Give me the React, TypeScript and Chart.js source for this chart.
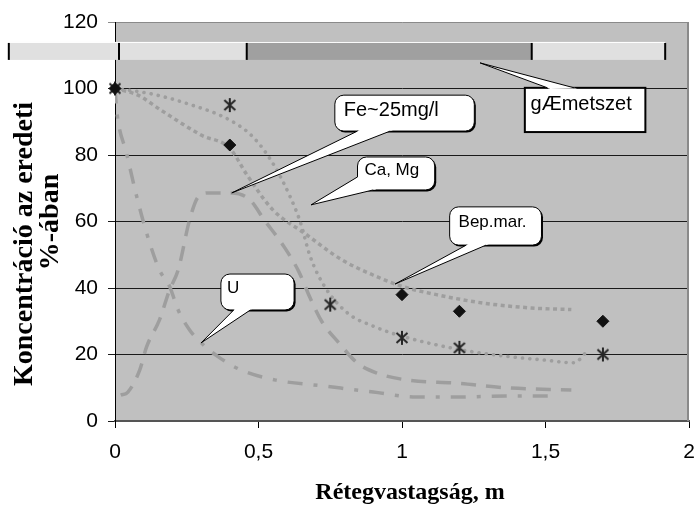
import React, { useEffect, useRef } from 'react';
import { Chart, registerables } from 'chart.js';

Chart.register(...registerables);

// ---- axis ticks ----
const xTickLabels = ['0', '0,5', '1', '1,5', '2'];
const yTickValues = [0, 20, 40, 60, 80, 100, 120];

// ---- smoothed curves ----
// Bep.mar. (square dots)
const bepX = [0, 0.08, 0.16, 0.3, 0.4, 0.46, 0.55, 0.66, 0.79, 0.91, 1.0, 1.12, 1.28, 1.45, 1.59];
const bepY = [100, 98, 93.5, 86, 82, 74, 63.5, 56.5, 48.5, 43.5, 40.5, 38, 35.5, 34, 33.5];
// Ca, Mg (round dots)
const caX = [0, 0.12, 0.25, 0.4, 0.48, 0.55, 0.61, 0.645, 0.68, 0.73, 0.81, 0.9, 1.0, 1.2, 1.36, 1.5, 1.6, 1.64];
const caY = [100, 98.5, 95.5, 90.5, 85.5, 77.5, 67.5, 60, 49.5, 40.5, 32.5, 28.5, 25.5, 21.5, 19.5, 18.3, 17.5, 20.5];
// Fe~25mg/l (dashes)
const feX = [0.02, 0.045, 0.086, 0.11, 0.155, 0.19, 0.22, 0.26, 0.29, 0.33, 0.41, 0.47, 0.52, 0.59, 0.64, 0.68, 0.72, 0.78, 0.845, 0.91, 1.02, 1.19, 1.36, 1.59];
const feY = [7.8, 8.7, 15.3, 22.3, 30.4, 39.4, 45.4, 60.5, 67.4, 68.6, 68.6, 66.5, 60.5, 52.3, 45, 37, 30, 23.5, 17.4, 14.5, 12.3, 11.4, 10, 9.3];
// U (dash-dot)
const uX = [0, 0.007, 0.04, 0.076, 0.11, 0.155, 0.19, 0.22, 0.26, 0.3, 0.36, 0.44, 0.56, 0.73, 0.9, 1.05, 1.19, 1.36, 1.54];
const uY = [100, 92.6, 80.6, 67.4, 56.6, 45.4, 40.5, 33.4, 27.4, 23.5, 19.3, 15.3, 12.3, 10.5, 8.7, 7.2, 7.2, 7.5, 7.5];

// ---- measured points ----
const diamondX = [0, 0.4, 1, 1.2, 1.7];
const diamondY = [100, 83, 38, 33, 30];
const starX = [0, 0.4, 0.75, 1, 1.2, 1.7];
const starY = [100, 95, 35, 25, 22, 20];

// ---- soil profile bar (top) ----
const profileBounds = [-0.37, 0.014, 0.459, 1.452, 1.917];
const profileShade = ['light', 'light', 'dark', 'light'];
const profileTop = 114.0;
const profileBottom = 108.6;

// ---- callouts ----
const calloutTexts = ['Fe~25mg/l', 'Ca, Mg', 'Bep.mar.', 'U', 'gÆmetszet'];
const calloutBoxes = [
  [0.766, 98.0, 1.252, 87.2],
  [0.845, 79.4, 1.114, 69.5],
  [1.166, 64.4, 1.486, 52.9],
  [0.369, 44.2, 0.624, 33.4],
  [1.428, 100.2, 1.848, 86.9],
];
const calloutTips = [
  [0.407, 68.6],
  [0.683, 65.0],
  [0.976, 41.2],
  [0.3, 23.5],
  [1.272, 107.7],
];
const calloutBases = [
  [[0.845, 87.2], [0.959, 87.2]],
  [[0.845, 73.4], [0.9, 69.5]],
  [[1.224, 52.9], [1.293, 52.9]],
  [[0.414, 33.4], [0.472, 33.4]],
  [[1.507, 100.2], [1.6, 100.2]],
];
const calloutTextAt = [
  [0.797, 93.5],
  [0.869, 75.5],
  [1.197, 59.8],
  [0.39, 40.0],
  [1.448, 95.3],
];

const yTitle1 = 'Koncentráció az eredeti';
const yTitle2 = '%-ában';
const xTitle = 'Rétegvastagság, m';

const LINE = '#9e9e9e';

function zip(xs: number[], ys: number[]) {
  return xs.map((x, i) => ({ x, y: ys[i] }));
}

function makeStar(): HTMLCanvasElement {
  const c = document.createElement('canvas');
  c.width = 16;
  c.height = 16;
  const g = c.getContext('2d')!;
  g.strokeStyle = '#262626';
  g.lineWidth = 2;
  g.beginPath();
  g.moveTo(2.5, 3); g.lineTo(13.5, 13);
  g.moveTo(13.5, 3); g.lineTo(2.5, 13);
  g.moveTo(8, 1); g.lineTo(8, 15);
  g.stroke();
  return c;
}

function roundRect(ctx: CanvasRenderingContext2D, x: number, y: number, w: number, h: number, r: number) {
  ctx.beginPath();
  ctx.moveTo(x + r, y);
  ctx.arcTo(x + w, y, x + w, y + h, r);
  ctx.arcTo(x + w, y + h, x, y + h, r);
  ctx.arcTo(x, y + h, x, y, r);
  ctx.arcTo(x, y, x + w, y, r);
  ctx.closePath();
}

const customPlugin = {
  id: 'customDraw',
  beforeDraw(chart: any) {
    const { ctx, chartArea } = chart;
    ctx.save();
    ctx.fillStyle = '#ffffff';
    ctx.fillRect(0, 0, chart.width, chart.height);
    ctx.fillStyle = '#c0c0c0';
    ctx.fillRect(chartArea.left, chartArea.top, chartArea.right - chartArea.left, chartArea.bottom - chartArea.top);
    ctx.restore();
  },
  afterDraw(chart: any) {
    const { ctx, chartArea } = chart;
    const xs = chart.scales.x;
    const ys = chart.scales.y;
    const X = (v: number) => xs.getPixelForValue(v);
    const Y = (v: number) => ys.getPixelForValue(v);
    ctx.save();

    // right border of plot
    ctx.strokeStyle = '#8a8a8a';
    ctx.lineWidth = 2;
    ctx.beginPath();
    ctx.moveTo(chartArea.right - 1, chartArea.top);
    ctx.lineTo(chartArea.right - 1, chartArea.bottom);
    ctx.stroke();

    // profile bar
    const yt = Y(profileTop);
    const yb = Y(profileBottom);
    for (let i = 0; i < profileShade.length; i++) {
      const x1 = X(profileBounds[i]);
      const x2 = X(profileBounds[i + 1]);
      ctx.fillStyle = profileShade[i] === 'dark' ? '#a0a0a0' : '#e0e0e0';
      ctx.fillRect(x1, yt, x2 - x1, yb - yt);
    }
    ctx.strokeStyle = '#ffffff';
    ctx.lineWidth = 1;
    ctx.beginPath();
    ctx.moveTo(X(profileBounds[0]), yt + 0.5);
    ctx.lineTo(X(profileBounds[profileBounds.length - 1]), yt + 0.5);
    ctx.stroke();
    ctx.strokeStyle = '#000';
    ctx.lineWidth = 2;
    for (const b of profileBounds) {
      const px = X(b);
      ctx.beginPath();
      ctx.moveTo(px, yt + 1);
      ctx.lineTo(px, yb);
      ctx.stroke();
    }

    // callouts
    calloutTexts.forEach((text, i) => {
      const [bx1, by1, bx2, by2] = calloutBoxes[i];
      const x = X(bx1), y = Y(by1), w = X(bx2) - x, h = Y(by2) - y;
      const tip = { x: X(calloutTips[i][0]), y: Y(calloutTips[i][1]) };
      const bases = calloutBases[i].map(([a, b]) => ({ x: X(a), y: Y(b) }));
      const square = i === 4;
      if (square) {
        ctx.fillStyle = '#fff';
        ctx.fillRect(x, y, w, h);
        ctx.strokeStyle = '#000';
        ctx.lineWidth = 2;
        ctx.strokeRect(x, y, w, h);
      } else {
        ctx.fillStyle = '#000';
        roundRect(ctx, x + 1.5, y + 1.5, w, h, 9);
        ctx.fill();
        ctx.fillStyle = '#fff';
        roundRect(ctx, x, y, w, h, 9);
        ctx.fill();
        ctx.strokeStyle = '#000';
        ctx.lineWidth = 1;
        ctx.stroke();
      }
      // wedge
      const inner = bases.map((p) => {
        const dx = p.x - tip.x, dy = p.y - tip.y;
        const l = Math.hypot(dx, dy) || 1;
        return { x: p.x + (dx / l) * 3, y: p.y + (dy / l) * 3 };
      });
      ctx.fillStyle = '#fff';
      ctx.beginPath();
      ctx.moveTo(tip.x, tip.y);
      ctx.lineTo(inner[0].x, inner[0].y);
      ctx.lineTo(inner[1].x, inner[1].y);
      ctx.closePath();
      ctx.fill();
      ctx.strokeStyle = '#000';
      ctx.lineWidth = 1;
      ctx.beginPath();
      ctx.moveTo(bases[0].x, bases[0].y);
      ctx.lineTo(tip.x, tip.y);
      ctx.lineTo(bases[1].x, bases[1].y);
      ctx.stroke();
      // text
      ctx.fillStyle = '#000';
      ctx.font = (i === 0 || i === 4 ? '20px' : '17px') + ' "Liberation Sans", Arial, sans-serif';
      ctx.textAlign = 'left';
      ctx.textBaseline = 'middle';
      ctx.fillText(text, X(calloutTextAt[i][0]), Y(calloutTextAt[i][1]));
    });

    // axis titles
    ctx.fillStyle = '#000';
    ctx.font = 'bold 28px "Liberation Serif", "Times New Roman", serif';
    ctx.textAlign = 'center';
    ctx.textBaseline = 'alphabetic';
    ctx.save();
    ctx.translate(32, 244);
    ctx.rotate(-Math.PI / 2);
    ctx.fillText(yTitle1, 0, 0);
    ctx.restore();
    ctx.save();
    ctx.translate(58, 222);
    ctx.rotate(-Math.PI / 2);
    ctx.fillText(yTitle2, 0, 0);
    ctx.restore();
    ctx.font = 'bold 24px "Liberation Serif", "Times New Roman", serif';
    ctx.fillText(xTitle, 410, 499);

    ctx.restore();
  },
};

export default function App() {
  const ref = useRef<HTMLCanvasElement | null>(null);
  useEffect(() => {
    if (!ref.current) return;
    const star = makeStar();
    const xTickValues = xTickLabels.map((l) => parseFloat(l.replace(',', '.')));
    const lineBase = {
      type: 'line' as const,
      showLine: true,
      pointRadius: 0,
      borderColor: LINE,
      borderWidth: 3.5,
      cubicInterpolationMode: 'monotone' as const,
      fill: false,
    };
    const chart = new Chart(ref.current, {
      type: 'scatter',
      data: {
        datasets: [
          { label: 'diamonds', data: zip(diamondX, diamondY), pointStyle: 'rectRot', pointRadius: 6, backgroundColor: '#111', borderColor: '#111', borderWidth: 1, order: 0, clip: false },
          { label: 'stars', data: zip(starX, starY), pointStyle: star as any, pointRadius: 8, order: 0, clip: false },
          { ...lineBase, label: 'Bep.mar.', data: zip(bepX, bepY), borderDash: [4, 3.5], borderCapStyle: 'butt', order: 2 },
          { ...lineBase, label: 'Ca, Mg', data: zip(caX, caY), borderWidth: 3.6, borderDash: [0.1, 7.2], borderCapStyle: 'round', order: 2 },
          { ...lineBase, label: 'Fe~25mg/l', data: zip(feX, feY), borderDash: [15, 10], borderCapStyle: 'butt', order: 2 },
          { ...lineBase, label: 'U', data: zip(uX, uY), borderDash: [15, 11, 4, 11], borderCapStyle: 'butt', order: 2 },
        ] as any,
      },
      options: {
        animation: false,
        responsive: false,
        events: [],
        layout: { padding: { top: 22, right: 3, left: 0, bottom: 0 } },
        plugins: { legend: { display: false }, tooltip: { enabled: false }, title: { display: false } },
        scales: {
          x: {
            type: 'linear',
            min: 0,
            max: 2,
            afterBuildTicks: (s: any) => {
              s.ticks = xTickValues.map((v) => ({ value: v }));
            },
            ticks: {
              autoSkip: false,
              maxRotation: 0,
              callback: (_v: any, i: number) => xTickLabels[i],
              font: { family: '"Liberation Sans", Arial, sans-serif', size: 21 },
              color: '#000',
              padding: 12,
            },
            grid: { drawOnChartArea: false, drawTicks: true, tickLength: 7, color: '#000', lineWidth: 1 },
            border: { color: '#555', width: 2 },
            afterFit: (s: any) => {
              s.height = 85;
              s.paddingLeft = 0;
              s.paddingRight = 0;
            },
          },
          y: {
            type: 'linear',
            min: 0,
            max: 120,
            afterBuildTicks: (s: any) => {
              s.ticks = yTickValues.map((v) => ({ value: v }));
            },
            ticks: {
              font: { family: '"Liberation Sans", Arial, sans-serif', size: 21 },
              color: '#000',
              padding: 10,
            },
            grid: {
              color: (c: any) => (c.tick && c.tick.value === 120 ? '#8a8a8a' : '#1a1a1a'),
              lineWidth: 1,
              tickLength: 7,
            },
            border: { color: '#000', width: 1 },
            afterFit: (s: any) => {
              s.width = 115;
              s.paddingTop = 0;
              s.paddingBottom = 0;
            },
          },
        },
      },
      plugins: [customPlugin],
    } as any);
    return () => chart.destroy();
  }, []);
  return (
    <div style={{ position: 'absolute', left: 0, top: 0, width: 698, height: 506 }}>
      <canvas ref={ref} width={698} height={506} style={{ display: 'block' }} />
    </div>
  );
}
